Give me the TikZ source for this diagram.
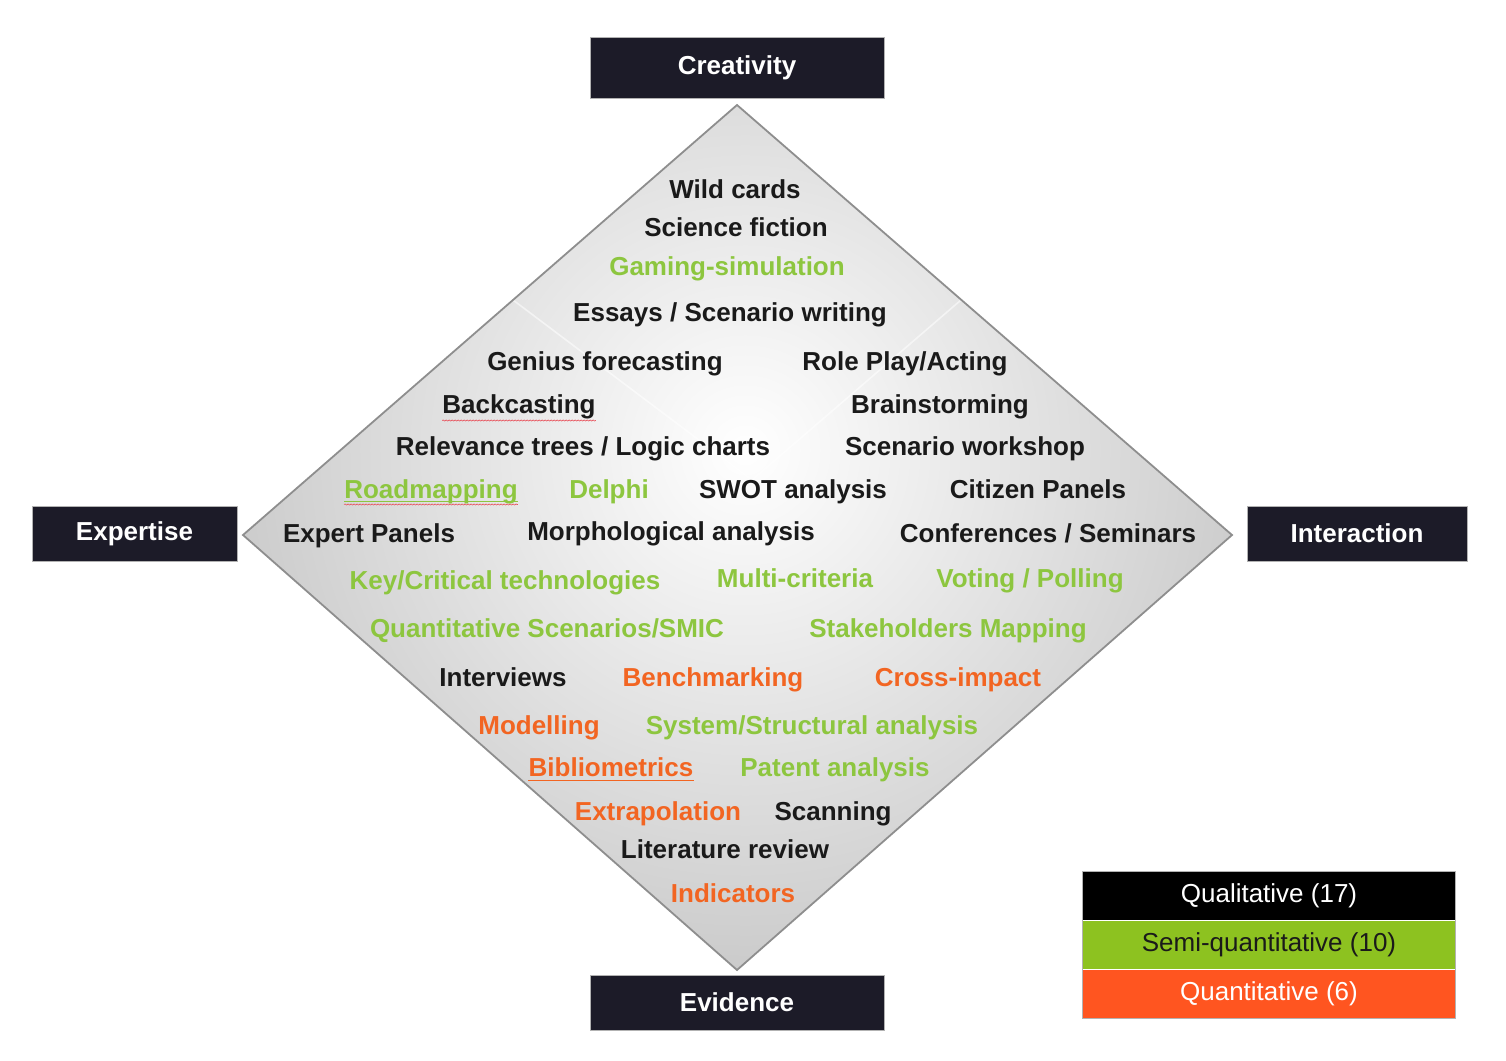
\documentclass[tikz,border=0pt]{standalone}
\usepackage{fontspec}
\setmainfont{Liberation Sans}
\usetikzlibrary{decorations.pathmorphing}
\definecolor{ink}{HTML}{1A1A1A}
\definecolor{semitext}{HTML}{8DC63F}
\definecolor{quanttext}{HTML}{F26522}
\definecolor{polefill}{HTML}{1C1B28}
\definecolor{edgegray}{HTML}{8E8E8E}
\definecolor{shadegray}{HTML}{BFBFBF}
\definecolor{legsemi}{HTML}{8DC220}
\definecolor{legquant}{HTML}{FF5520}
\definecolor{spellred}{HTML}{E8505A}
\begin{document}
\begin{tikzpicture}[x=1pt,y=-1pt,
  item/.style={font=\fontsize{26}{28}\selectfont\bfseries, inner sep=0pt,
    text height=18.6pt, text depth=0pt, anchor=center},
  qual/.style={item, text=ink},
  semiq/.style={item, text=semitext},
  quan/.style={item, text=quanttext},
  pole/.style={fill=polefill, draw=gray!60, line width=0.8pt, text=white,
    font=\fontsize{26}{28}\selectfont\bfseries, inner sep=0pt},
  legend/.style={minimum width=372pt, minimum height=48.5pt, inner sep=0pt,
    font=\fontsize{26}{28}\selectfont},
  spell/.style={draw=spellred, line width=0.6pt,
    decorate, decoration={snake, amplitude=0.6pt, segment length=3pt}},
  uline/.style={line width=1.2pt}]

\useasboundingbox (0,0) rectangle (1506,1060);

% corner points of the diamond
\coordinate (dt) at (737,105);
\coordinate (dl) at (243,535);
\coordinate (dr) at (1232,535);
\coordinate (db) at (737,970);

% shaded diamond
\begin{scope}
  \clip (dt) -- (dr) -- (db) -- (dl) -- cycle;
  \shade[inner color=white, outer color=shadegray] (745,450) circle (640);
  % faint ridges
  \draw[white, opacity=0.55, line width=1.6pt] (513,300) -- (752,480) -- (961,300);
\end{scope}
\draw[edgegray, line width=1.8pt, line join=miter] (dt) -- (dr) -- (db) -- (dl) -- cycle;

% the four poles
\node[pole, minimum width=294pt, minimum height=61pt] (creativity) at (737,67.5) {Creativity};
\node[pole, minimum width=205pt, minimum height=55pt] (expertise) at (134.5,533.5) {Expertise};
\node[pole, minimum width=220pt, minimum height=55pt] (interaction) at (1357,533.5) {Interaction};
\node[pole, minimum width=294pt, minimum height=55pt] (evidence) at (737,1002.5) {Evidence};

% methods
\node[qual]  (wild)   at (735,189) {Wild cards};
\node[qual]  (scifi)  at (736,227) {Science fiction};
\node[semiq] (gaming) at (727,266) {Gaming-simulation};
\node[qual]  (essays) at (730,312) {Essays / Scenario writing};
\node[qual]  (genius) at (605,361) {Genius forecasting};
\node[qual]  (role)   at (905,361) {Role Play/Acting};
\node[qual]  (backc)  at (519,404) {Backcasting};
\node[qual]  (brain)  at (940,404) {Brainstorming};
\node[qual]  (relev)  at (583,446) {Relevance trees / Logic charts};
\node[qual]  (scenw)  at (965,446) {Scenario workshop};
\node[semiq] (road)   at (431,489) {Roadmapping};
\node[semiq] (delphi) at (609,489) {Delphi};
\node[qual]  (swot)   at (793,489) {SWOT analysis};
\node[qual]  (citiz)  at (1038,489) {Citizen Panels};
\node[qual]  (expert) at (369,533) {Expert Panels};
\node[qual]  (morph)  at (671,531) {Morphological analysis};
\node[qual]  (conf)   at (1048,533) {Conferences / Seminars};
\node[semiq] (keycr)  at (505,580) {Key/Critical technologies};
\node[semiq] (multi)  at (795,578) {Multi-criteria};
\node[semiq] (voting) at (1030,578) {Voting / Polling};
\node[semiq] (qscen)  at (547,628) {Quantitative Scenarios/SMIC};
\node[semiq] (stake)  at (948,628) {Stakeholders Mapping};
\node[qual]  (interv) at (503,677) {Interviews};
\node[quan]  (bench)  at (713,677) {Benchmarking};
\node[quan]  (cross)  at (958,677) {Cross-impact};
\node[quan]  (model)  at (539,725) {Modelling};
\node[semiq] (system) at (812,725) {System/Structural analysis};
\node[quan]  (biblio) at (611,767) {Bibliometrics};
\node[semiq] (patent) at (835,767) {Patent analysis};
\node[quan]  (extra)  at (658,811) {Extrapolation};
\node[qual]  (scan)   at (833,811) {Scanning};
\node[qual]  (litrev) at (725,849) {Literature review};
\node[quan]  (indic)  at (733,893) {Indicators};

% underlines
\draw[spell] ([yshift=-7pt]backc.south west) -- ([yshift=-7pt]backc.south east);
\draw[uline, semitext] ([yshift=-3pt]road.south west) -- ([yshift=-3pt]road.south east);
\draw[spell] ([yshift=-6pt]road.south west) -- ([yshift=-6pt]road.south east);
\draw[uline, quanttext] ([yshift=-4pt]biblio.south west) -- ([yshift=-4pt]biblio.south east);

% legend
\node[legend, fill=black, text=white] (lqual) at (1269,896) {Qualitative (17)};
\node[legend, fill=legsemi, text=ink, anchor=north] (lsemi) at (lqual.south) {Semi-quantitative (10)};
\node[legend, fill=legquant, text=white, anchor=north] (lquan) at (lsemi.south) {Quantitative (6)};
\draw[gray!60, line width=0.8pt] (lqual.north west) rectangle (lquan.south east);
\end{tikzpicture}
\end{document}
